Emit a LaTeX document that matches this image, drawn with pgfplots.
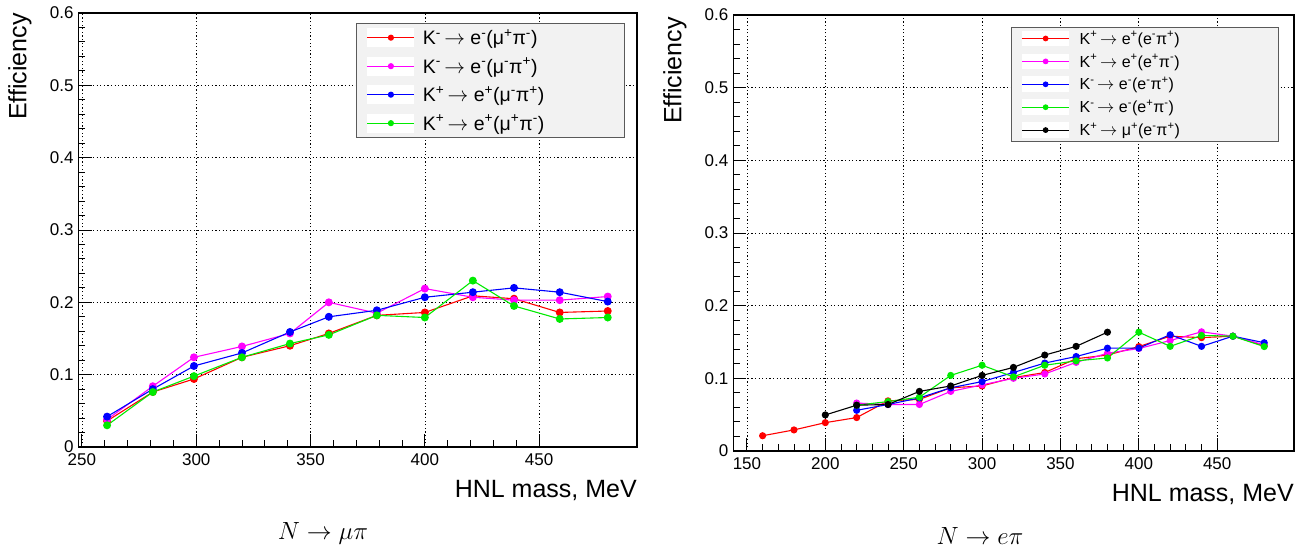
\documentclass[border=0pt]{standalone}
\usepackage{fontspec}
\setmainfont{Liberation Sans}
\usepackage{pgfplots}
\pgfplotsset{compat=1.18}
\definecolor{rred}{RGB}{255,0,0}
\definecolor{rmag}{RGB}{255,0,255}
\definecolor{rblue}{RGB}{0,0,255}
\definecolor{rgreen}{RGB}{0,235,0}
\definecolor{legfill}{RGB}{242,242,242}
\definecolor{legdraw}{RGB}{90,90,90}
\newcommand{\sps}[1]{\textsuperscript{#1}}
\newcommand{\arr}{\,$\rightarrow$}
\pgfplotsset{
  rootaxis/.style={
    scale only axis,
    axis line style={line width=1.2pt},
    tick style={black, line width=0.9pt},
    major tick length=13pt, minor tick length=6.5pt,
    tick pos=left, tick align=inside,
    ymin=0, ymax=0.6, ytick={0,0.1,0.2,0.3,0.4,0.5,0.6}, minor y tick num=4,
    minor x tick num=4,
    grid=major,
    major grid style={black, line width=0.7pt, dash pattern=on 1.2pt off 2.4pt},
    ticklabel style={font=\fontsize{17}{19}\selectfont},
    /pgf/number format/assume math mode=true,
    xticklabel style={yshift=-3pt},
    yticklabel style={xshift=-1.5pt},
    every axis x label/.style={at={(axis description cs:1,0)}, anchor=base east, yshift=-51pt, inner sep=0pt, font=\fontsize{25}{28}\selectfont},
    every axis y label/.style={at={(axis description cs:-0.1047,1)}, rotate=90, anchor=east, inner sep=0pt, font=\fontsize{25}{28}\selectfont},
    xlabel={HNL mass, MeV}, ylabel={Efficiency},
    every axis plot/.append style={line width=1.1pt, mark=*},
    legend cell align=left,
  },
}
\begin{document}
\begin{tikzpicture}
\useasboundingbox (0pt,0pt) rectangle (1304pt,553pt);
% ---------------- left ----------------
\begin{axis}[rootaxis,
  at={(78.5pt,106pt)}, anchor=south west, width=558.5pt, height=434pt,
  xmin=248.5, xmax=492.8, xtick={250,300,350,400,450},
  every axis plot/.append style={mark size=3.4pt},
  legend image code/.code={\path[fill=white, draw=none] (0pt,-9.5pt) rectangle (47pt,9.5pt);
    \draw[mark repeat=2,mark phase=2,#1,line width=1.1pt,mark size=2.5pt] plot coordinates {(0pt,0pt)(23.5pt,0pt)(47pt,0pt)};},
  legend style={name=legL, at={(0.977,0.977)}, anchor=north east, fill=legfill, draw=none,
    inner xsep=10pt, inner ysep=5pt, row sep=9.5pt, column sep=8pt,
    nodes={inner sep=0pt}, cells={anchor=west},
    font=\fontsize{19.5}{21}\selectfont},
]
\addplot[rred, draw=rred] coordinates {(261,0.036)(281,0.076)(299,0.094)(320,0.124)(341,0.140)(358,0.157)(379,0.182)(400,0.186)(421,0.209)(439,0.205)(459,0.186)(480,0.188)};
\addlegendentry{\makebox[191pt][l]{K\sps{-}\arr\ e\sps{-}(μ\sps{+}π\sps{-})}}
\addplot[rmag, draw=rmag] coordinates {(261,0.038)(281,0.084)(299,0.124)(320,0.139)(341,0.157)(358,0.200)(379,0.185)(400,0.219)(421,0.207)(439,0.203)(459,0.203)(480,0.208)};
\addlegendentry{\makebox[191pt][l]{K\sps{-}\arr\ e\sps{-}(μ\sps{-}π\sps{+})}}
\addplot[rblue, draw=rblue] coordinates {(261,0.042)(281,0.080)(299,0.112)(320,0.130)(341,0.159)(358,0.180)(379,0.189)(400,0.207)(421,0.214)(439,0.220)(459,0.214)(480,0.201)};
\addlegendentry{\makebox[191pt][l]{K\sps{+}\arr\ e\sps{+}(μ\sps{-}π\sps{+})}}
\addplot[rgreen, draw=rgreen] coordinates {(261,0.030)(281,0.076)(299,0.098)(320,0.124)(341,0.143)(358,0.155)(379,0.182)(400,0.179)(421,0.230)(439,0.195)(459,0.177)(480,0.179)};
\addlegendentry{\makebox[191pt][l]{K\sps{+}\arr\ e\sps{+}(μ\sps{+}π\sps{-})}}
\end{axis}
\draw[legdraw, line width=0.8pt] (legL.south west) rectangle (legL.north east);
% ---------------- right ----------------
\begin{axis}[rootaxis,
  at={(733.3pt,102pt)}, anchor=south west, width=560.7pt, height=436pt,
  xmin=141.3, xmax=499, xtick={150,200,250,300,350,400,450},
  every axis plot/.append style={mark size=3pt},
  every axis y label/.append style={at={(axis description cs:-0.104,0.995)}},
  legend image code/.code={\path[fill=white, draw=none] (0pt,-7.8pt) rectangle (47pt,7.8pt);
    \draw[mark repeat=2,mark phase=2,#1,line width=1.1pt,mark size=2.3pt] plot coordinates {(0pt,0pt)(23.5pt,0pt)(47pt,0pt)};},
  legend style={name=legR, at={(0.973,0.9725)}, anchor=north east, fill=legfill, draw=none,
    inner xsep=10pt, inner ysep=3.5pt, row sep=7.3pt, column sep=10pt,
    nodes={inner sep=0pt}, cells={anchor=west},
    font=\fontsize{16}{18}\selectfont},
]
\addplot[rred, draw=rred] coordinates {(160,0.021)(180,0.029)(200,0.039)(220,0.046)(240,0.069)(260,0.071)(280,0.087)(300,0.0895)(320,0.101)(340,0.108)(360,0.127)(380,0.132)(400,0.1437)(420,0.158)(440,0.156)(460,0.158)(480,0.145)};
\addlegendentry{\makebox[189pt][l]{K\sps{+}\arr\ e\sps{+}(e\sps{-}π\sps{+})}}
\addplot[rmag, draw=rmag] coordinates {(220,0.066)(240,0.064)(260,0.064)(280,0.082)(300,0.091)(320,0.100)(340,0.106)(360,0.122)(380,0.1345)(400,0.141)(420,0.152)(440,0.164)(460,0.158)(480,0.146)};
\addlegendentry{\makebox[189pt][l]{K\sps{+}\arr\ e\sps{+}(e\sps{+}π\sps{-})}}
\addplot[rblue, draw=rblue] coordinates {(220,0.056)(240,0.064)(260,0.073)(280,0.087)(300,0.0955)(320,0.108)(340,0.121)(360,0.130)(380,0.1415)(400,0.1415)(420,0.160)(440,0.144)(460,0.158)(480,0.149)};
\addlegendentry{\makebox[189pt][l]{K\sps{-}\arr\ e\sps{-}(e\sps{-}π\sps{+})}}
\addplot[rgreen, draw=rgreen] coordinates {(220,0.063)(240,0.068)(260,0.074)(280,0.104)(300,0.118)(320,0.102)(340,0.118)(360,0.124)(380,0.128)(400,0.1635)(420,0.144)(440,0.159)(460,0.158)(480,0.1437)};
\addlegendentry{\makebox[189pt][l]{K\sps{-}\arr\ e\sps{-}(e\sps{+}π\sps{-})}}
\addplot[black, draw=black] coordinates {(200,0.0496)(220,0.063)(240,0.064)(260,0.082)(280,0.0895)(300,0.104)(320,0.115)(340,0.132)(360,0.144)(380,0.1635)};
\addlegendentry{\makebox[189pt][l]{K\sps{+}\arr\ μ\sps{+}(e\sps{-}π\sps{+})}}
\end{axis}
\draw[legdraw, line width=0.8pt] (legR.south west) rectangle (legR.north east);
\node[anchor=base, font=\fontsize{27}{30}\selectfont] at (323pt,13pt) {$N\rightarrow\mu\pi$};
\node[anchor=base, font=\fontsize{27}{30}\selectfont] at (980pt,8pt) {$N\rightarrow e\pi$};
\end{tikzpicture}
\end{document}
